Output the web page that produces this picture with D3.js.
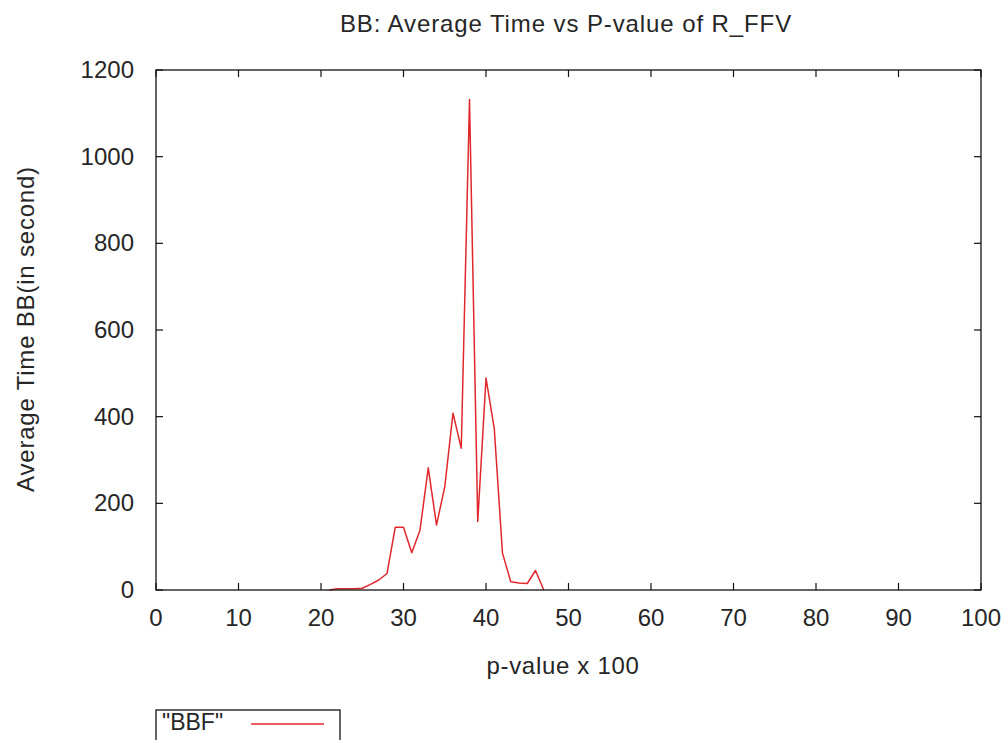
<!DOCTYPE html>
<html>
<head>
<meta charset="utf-8">
<script src="https://cdn.jsdelivr.net/npm/d3@7"></script>
<style>
  body { margin: 0; background: #fff; }
  text { font-family: "Liberation Sans", Arial, sans-serif; fill: #262626; }
</style>
</head>
<body>
<svg id="chart" width="1006" height="740"></svg>
<script>
// p-value x 100 and average time for BBF
const pValues = [21, 22, 23, 24, 25, 26, 27, 28, 29, 30, 31, 32, 33, 34, 35, 36, 37, 38, 39, 40, 41, 42, 43, 44, 45, 46, 47]
const bbfTimes = [0, 3, 3, 3, 4, 13, 23, 38, 145, 145, 86, 138, 282, 150, 238, 408, 327, 1132, 158, 489, 373, 85, 19, 16, 15, 45, 0]
const xTicks = [0, 10, 20, 30, 40, 50, 60, 70, 80, 90, 100]
const yTicks = [0, 200, 400, 600, 800, 1000, 1200]

const svg = d3.select("#chart")
const plotLeft = 156, plotRight = 981, plotTop = 70, plotBottom = 590
const tickLen = 7

const x = d3.scaleLinear().domain([0, 100]).range([plotLeft, plotRight])
const y = d3.scaleLinear().domain([0, 1200]).range([plotBottom, plotTop])

// ticks: inward on all four sides, gnuplot style
const tickG = svg.append("g").attr("stroke", "#111").attr("stroke-width", 1.2)
xTicks.forEach(t => {
  tickG.append("line").attr("x1", x(t)).attr("x2", x(t)).attr("y1", plotBottom).attr("y2", plotBottom - tickLen)
  tickG.append("line").attr("x1", x(t)).attr("x2", x(t)).attr("y1", plotTop).attr("y2", plotTop + tickLen)
})
yTicks.forEach(t => {
  tickG.append("line").attr("x1", plotLeft).attr("x2", plotLeft + tickLen).attr("y1", y(t)).attr("y2", y(t))
  tickG.append("line").attr("x1", plotRight).attr("x2", plotRight - tickLen).attr("y1", y(t)).attr("y2", y(t))
})

svg.selectAll(".xlab").data(xTicks).enter().append("text")
  .attr("x", d => x(d)).attr("y", 626)
  .attr("text-anchor", "middle").attr("font-size", 24)
  .text(d => d)

svg.selectAll(".ylab").data(yTicks).enter().append("text")
  .attr("x", plotLeft - 22).attr("y", d => y(d) + 8)
  .attr("text-anchor", "end").attr("font-size", 24)
  .text(d => d)

// the data line
const line = d3.line().x((d, i) => x(pValues[i])).y(d => y(d))
svg.append("path").datum(bbfTimes)
  .attr("d", line)
  .attr("fill", "none")
  .attr("stroke", "#e0282c")
  .attr("stroke-width", 1.5)
  .attr("stroke-linejoin", "round")

// frame
svg.append("rect")
  .attr("x", plotLeft).attr("y", plotTop)
  .attr("width", plotRight - plotLeft).attr("height", plotBottom - plotTop)
  .attr("fill", "none").attr("stroke", "#111").attr("stroke-width", 1.3)

svg.append("text")
  .attr("x", 566).attr("y", 32)
  .attr("text-anchor", "middle").attr("font-size", 24).attr("letter-spacing", 0.9)
  .text("BB: Average Time vs P-value of R_FFV")

svg.append("text")
  .attr("x", 563).attr("y", 674)
  .attr("text-anchor", "middle").attr("font-size", 24).attr("letter-spacing", 0.7)
  .text("p-value x 100")

svg.append("text")
  .attr("transform", "translate(34,329) rotate(-90)")
  .attr("text-anchor", "middle").attr("font-size", 24).attr("letter-spacing", 0.8)
  .text("Average Time BB(in second)")

// legend box, cut off at the bottom edge like the original
svg.append("rect")
  .attr("x", 156).attr("y", 710).attr("width", 184).attr("height", 40)
  .attr("fill", "none").attr("stroke", "#111").attr("stroke-width", 1.3)
svg.append("text")
  .attr("x", 162).attr("y", 730).attr("font-size", 23)
  .text("\"BBF\"")
svg.append("line")
  .attr("x1", 251).attr("x2", 324).attr("y1", 724).attr("y2", 724)
  .attr("stroke", "#e0282c").attr("stroke-width", 1.5)
</script>
</body>
</html>
